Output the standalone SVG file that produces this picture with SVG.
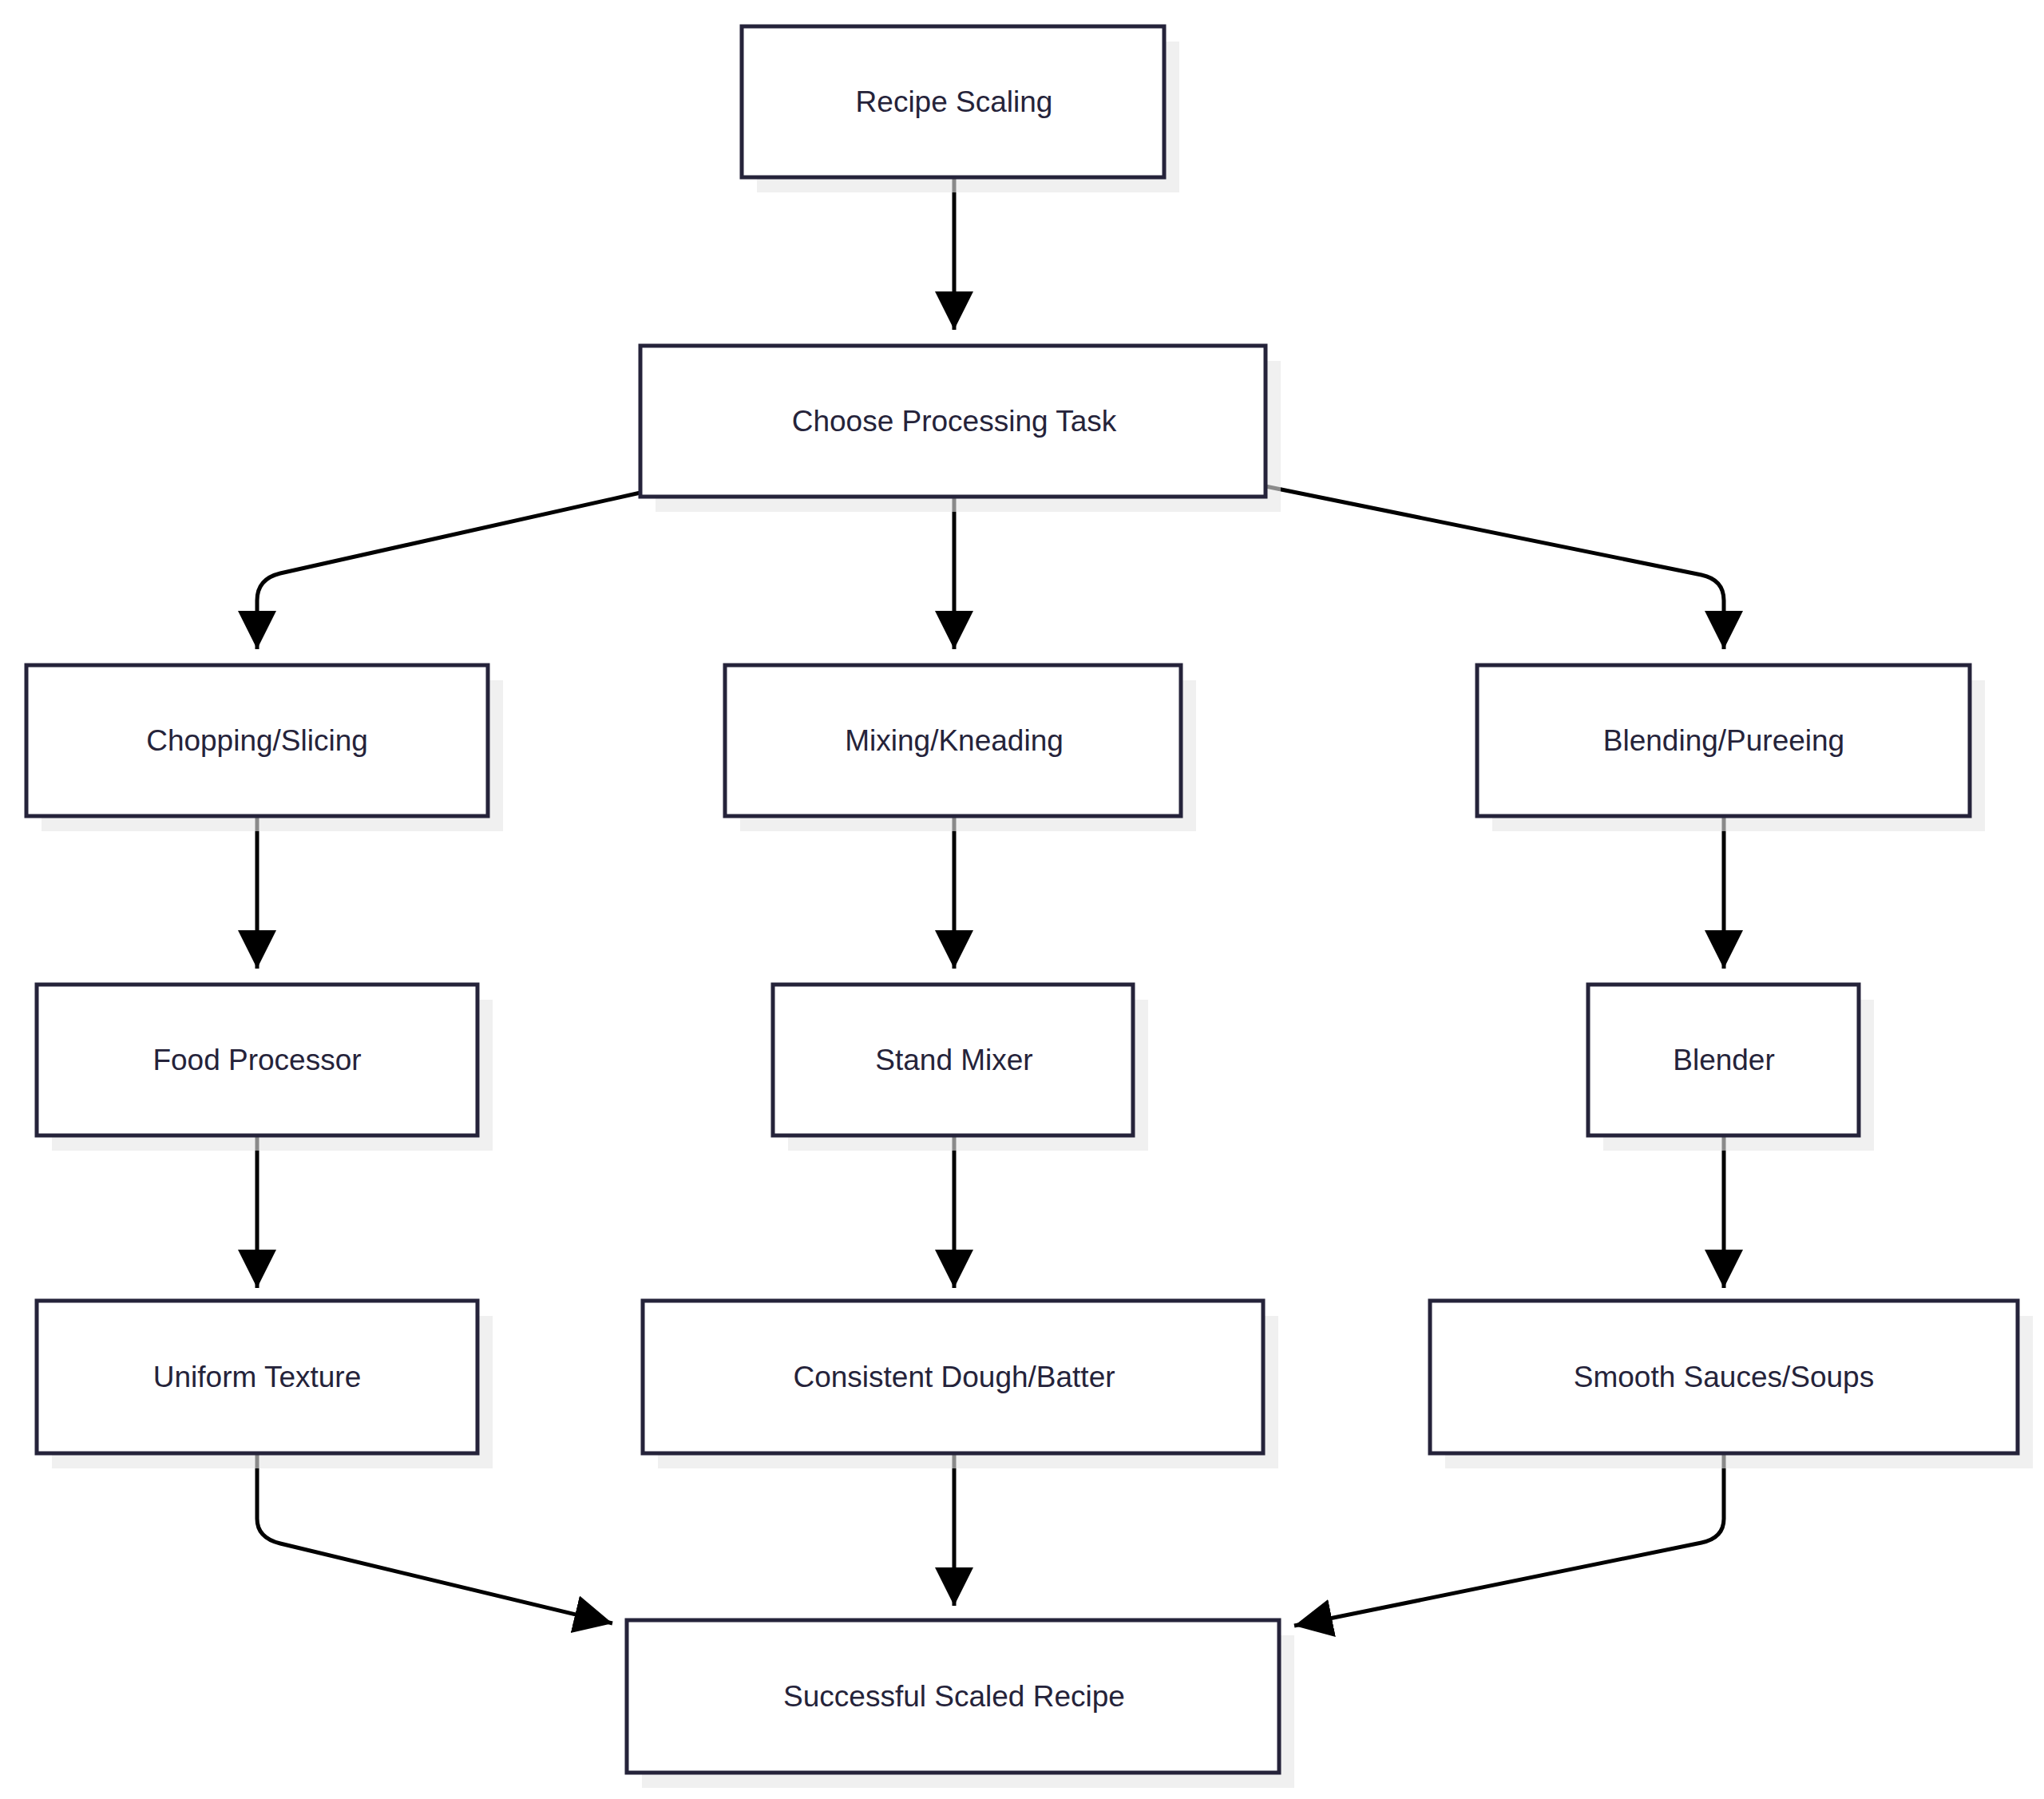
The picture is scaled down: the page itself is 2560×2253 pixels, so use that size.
<svg xmlns="http://www.w3.org/2000/svg" width="2560" height="2253" viewBox="0 0 2560 2253">
<style>
.sh{fill:#e6e6e6;opacity:0.6}
.bx{fill:#fff;stroke:#25233a;stroke-width:5}
.t{font-family:"Liberation Sans",Arial,sans-serif;font-size:37px;fill:#25233a;text-anchor:middle;dominant-baseline:central}
.e{fill:none;stroke:#000;stroke-width:5}
</style>
<defs>
<marker id="a" markerUnits="userSpaceOnUse" markerWidth="50" markerHeight="50" viewBox="0 0 50 50" refX="48" refY="24" orient="auto">
<path d="M0,0 L48,24 L0,48 Z" fill="#000"/>
</marker>
</defs>
<rect width="2560" height="2253" fill="#fff"/>
<g id="connectors">
<path class="e" d="M1195,222 V413" marker-end="url(#a)"/>
<path class="e" d="M802,617 L351,718 Q322,725 322,752 V813" marker-end="url(#a)"/>
<path class="e" d="M1195,622 V813" marker-end="url(#a)"/>
<path class="e" d="M1585,609 L2131,720 Q2159,726 2159,752 V813" marker-end="url(#a)"/>
<path class="e" d="M322,1022 V1213" marker-end="url(#a)"/>
<path class="e" d="M1195,1022 V1213" marker-end="url(#a)"/>
<path class="e" d="M2159,1022 V1213" marker-end="url(#a)"/>
<path class="e" d="M322,1422 V1613" marker-end="url(#a)"/>
<path class="e" d="M1195,1422 V1613" marker-end="url(#a)"/>
<path class="e" d="M2159,1422 V1613" marker-end="url(#a)"/>
<path class="e" d="M322,1820 V1902 Q322,1926 351,1933 L767,2033" marker-end="url(#a)"/>
<path class="e" d="M1195,1820 V2011" marker-end="url(#a)"/>
<path class="e" d="M2159,1820 V1902 Q2159,1926 2131,1932 L1621,2036" marker-end="url(#a)"/>
</g>
<g id="n1"><rect class="sh" x="948" y="52" width="529" height="189"/><rect class="bx" x="929" y="33" width="529" height="189"/><text class="t" x="1195" y="127">Recipe Scaling</text></g>
<g id="n2"><rect class="sh" x="821" y="452" width="783" height="189"/><rect class="bx" x="802" y="433" width="783" height="189"/><text class="t" x="1195" y="527">Choose Processing Task</text></g>
<g id="n3"><rect class="sh" x="52" y="852" width="578" height="189"/><rect class="bx" x="33" y="833" width="578" height="189"/><text class="t" x="322" y="927">Chopping/Slicing</text></g>
<g id="n4"><rect class="sh" x="927" y="852" width="571" height="189"/><rect class="bx" x="908" y="833" width="571" height="189"/><text class="t" x="1195" y="927">Mixing/Kneading</text></g>
<g id="n5"><rect class="sh" x="1869" y="852" width="617" height="189"/><rect class="bx" x="1850" y="833" width="617" height="189"/><text class="t" x="2159" y="927">Blending/Pureeing</text></g>
<g id="n6"><rect class="sh" x="65" y="1252" width="552" height="189"/><rect class="bx" x="46" y="1233" width="552" height="189"/><text class="t" x="322" y="1327">Food Processor</text></g>
<g id="n7"><rect class="sh" x="987" y="1252" width="451" height="189"/><rect class="bx" x="968" y="1233" width="451" height="189"/><text class="t" x="1195" y="1327">Stand Mixer</text></g>
<g id="n8"><rect class="sh" x="2008" y="1252" width="339" height="189"/><rect class="bx" x="1989" y="1233" width="339" height="189"/><text class="t" x="2159" y="1327">Blender</text></g>
<g id="n9"><rect class="sh" x="65" y="1648" width="552" height="191"/><rect class="bx" x="46" y="1629" width="552" height="191"/><text class="t" x="322" y="1724">Uniform Texture</text></g>
<g id="n10"><rect class="sh" x="824" y="1648" width="777" height="191"/><rect class="bx" x="805" y="1629" width="777" height="191"/><text class="t" x="1195" y="1724">Consistent Dough/Batter</text></g>
<g id="n11"><rect class="sh" x="1810" y="1648" width="736" height="191"/><rect class="bx" x="1791" y="1629" width="736" height="191"/><text class="t" x="2159" y="1724">Smooth Sauces/Soups</text></g>
<g id="n12"><rect class="sh" x="804" y="2048" width="817" height="191"/><rect class="bx" x="785" y="2029" width="817" height="191"/><text class="t" x="1195" y="2124">Successful Scaled Recipe</text></g>
</svg>
